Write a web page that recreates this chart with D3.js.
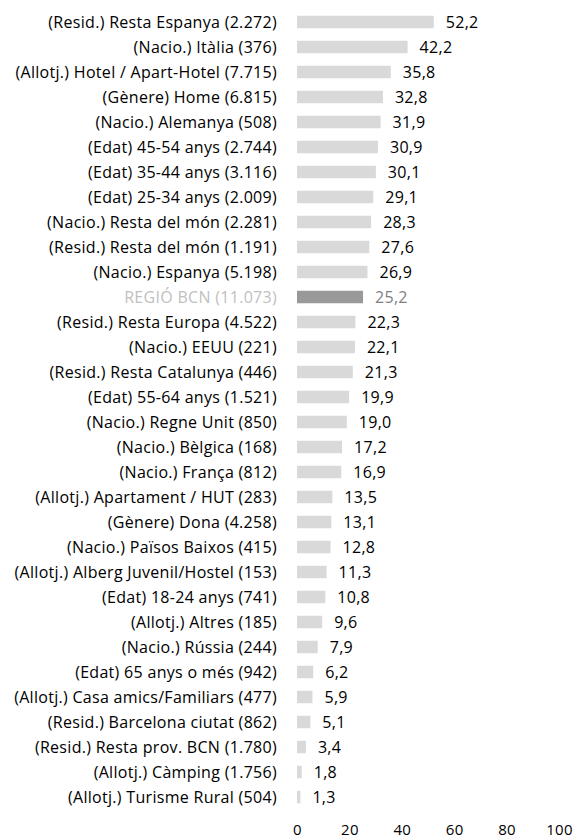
<!DOCTYPE html>
<html>
<head>
<meta charset="utf-8">
<script src="https://cdn.jsdelivr.net/npm/d3@7"></script>
<style>
  body { margin: 0; background: #fff; }
  svg { display: block; font-family: "Open Sans", Lato, sans-serif; }
</style>
</head>
<body>
<div id="chart"></div>
<script>
// Categories (top to bottom) and their percentages
const categories = [
    "(Resid.) Resta Espanya (2.272)",
    "(Nacio.) Itàlia (376)",
    "(Allotj.) Hotel / Apart-Hotel (7.715)",
    "(Gènere) Home (6.815)",
    "(Nacio.) Alemanya (508)",
    "(Edat) 45-54 anys (2.744)",
    "(Edat) 35-44 anys (3.116)",
    "(Edat) 25-34 anys (2.009)",
    "(Nacio.) Resta del món (2.281)",
    "(Resid.) Resta del món (1.191)",
    "(Nacio.) Espanya (5.198)",
    "REGIÓ BCN (11.073)",
    "(Resid.) Resta Europa (4.522)",
    "(Nacio.) EEUU (221)",
    "(Resid.) Resta Catalunya (446)",
    "(Edat) 55-64 anys (1.521)",
    "(Nacio.) Regne Unit (850)",
    "(Nacio.) Bèlgica (168)",
    "(Nacio.) França (812)",
    "(Allotj.) Apartament / HUT (283)",
    "(Gènere) Dona (4.258)",
    "(Nacio.) Països Baixos (415)",
    "(Allotj.) Alberg Juvenil/Hostel (153)",
    "(Edat) 18-24 anys (741)",
    "(Allotj.) Altres (185)",
    "(Nacio.) Rússia (244)",
    "(Edat) 65 anys o més (942)",
    "(Allotj.) Casa amics/Familiars (477)",
    "(Resid.) Barcelona ciutat (862)",
    "(Resid.) Resta prov. BCN (1.780)",
    "(Allotj.) Càmping (1.756)",
    "(Allotj.) Turisme Rural (504)"
];
const values = [
    52.2, 42.2, 35.8, 32.8, 31.9, 30.9, 30.1, 29.1, 28.3, 27.6, 26.9,
    25.2, 22.3, 22.1, 21.3, 19.9, 19.0, 17.2, 16.9, 13.5, 13.1, 12.8,
    11.3, 10.8, 9.6, 7.9, 6.2, 5.9, 5.1, 3.4, 1.8, 1.3
];
const highlight = "REGIÓ BCN (11.073)";
const xTicks = [0, 20, 40, 60, 80, 100];

const width = 578;
const height = 840;
const marginLeft = 297;
const marginRight = 19;
const marginTop = 9.5;
const marginBottom = 30.5;
const fontSize = 16;
const spacing = "0.3px";

const data = categories.map((c, i) => ({ name: c, value: values[i] }));
const fmt = v => d3.format(".1f")(v).replace(".", ",");

const x = d3.scaleLinear()
    .domain([0, 100])
    .range([marginLeft, width - marginRight]);

const y = d3.scaleBand()
    .domain(categories)
    .range([marginTop, height - marginBottom])
    .paddingInner(0.5)
    .paddingOuter(0.25);

const svg = d3.select("#chart").append("svg")
    .attr("width", width)
    .attr("height", height)
    .attr("viewBox", [0, 0, width, height]);

// bars
svg.append("g")
    .selectAll("rect")
    .data(data)
    .join("rect")
    .attr("x", x(0))
    .attr("y", d => y(d.name))
    .attr("width", d => x(d.value) - x(0))
    .attr("height", y.bandwidth())
    .attr("fill", d => d.name === highlight ? "#999999" : "#d9d9d9");

// category labels
svg.append("g")
    .attr("font-size", fontSize)
    .attr("letter-spacing", spacing)
    .attr("text-anchor", "end")
    .selectAll("text")
    .data(data)
    .join("text")
    .attr("x", 277)
    .attr("y", d => y(d.name) + y.bandwidth() / 2)
    .attr("dy", "0.35em")
    .attr("fill", d => d.name === highlight ? "#bfbfbf" : "#000")
    .text(d => d.name);

// value labels
svg.append("g")
    .attr("font-size", fontSize)
    .attr("letter-spacing", spacing)
    .selectAll("text")
    .data(data)
    .join("text")
    .attr("x", d => x(d.value) + 12)
    .attr("y", d => y(d.name) + y.bandwidth() / 2)
    .attr("dy", "0.4em")
    .attr("fill", d => d.name === highlight ? "#7f7f7f" : "#000")
    .text(d => fmt(d.value));

// x axis, labels only
const xAxis = svg.append("g")
    .attr("transform", `translate(0,${height - 5})`)
    .call(d3.axisBottom(x).tickValues(xTicks).tickSize(0).tickPadding(0))
    .call(g => g.select(".domain").remove());

xAxis.selectAll("text")
    .attr("font-size", 15)
    .attr("letter-spacing", spacing)
    .attr("font-family", "'Open Sans', Lato, sans-serif")
    .attr("dy", "0")
    .attr("fill", "#000");
</script>
</body>
</html>
